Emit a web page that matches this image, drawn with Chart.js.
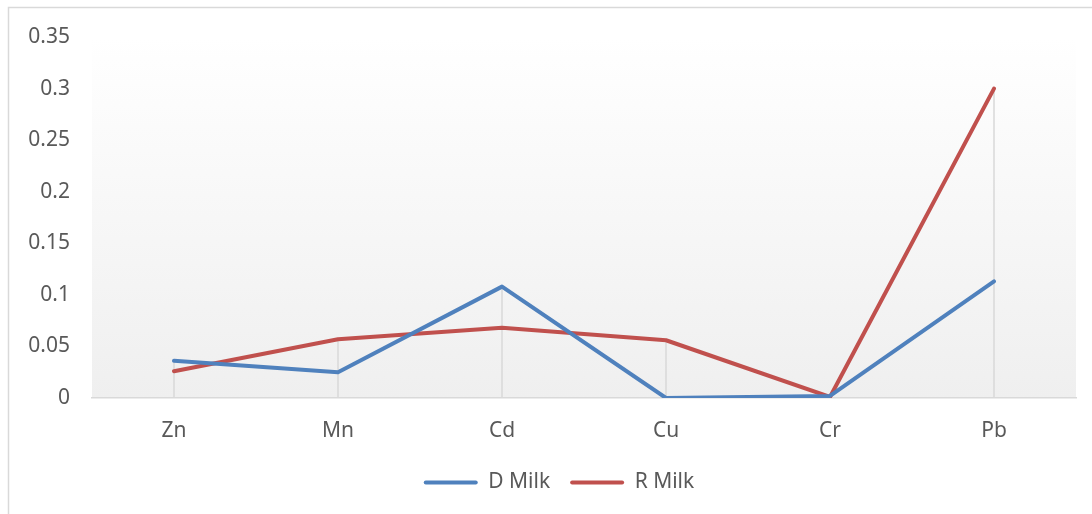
<!DOCTYPE html>
<html>
<head>
<meta charset="utf-8">
<script src="https://cdn.jsdelivr.net/npm/chart.js@4/dist/chart.umd.min.js"></script>
<style>
  html, body { margin: 0; padding: 0; background: #fff; }
</style>
</head>
<body>
<canvas id="chart" width="1092" height="514"></canvas>
<script>
// chart data
const elements = ['Zn', 'Mn', 'Cd', 'Cu', 'Cr', 'Pb'];
const dMilk = [0.036, 0.025, 0.108, 0.0, 0.002, 0.113];
const rMilk = [0.026, 0.057, 0.068, 0.056, 0.001, 0.300];
const yTicks = [0, 0.05, 0.1, 0.15, 0.2, 0.25, 0.3, 0.35];

const BLUE = '#4f81bd';
const RED = '#c0504d';
const TEXT = '#595959';
const FONT = { family: 'Noto Sans', size: 21 };

// gradient plot background + outer frame
const backdrop = {
  id: 'backdrop',
  afterLayout(chart) {
    // the original frame runs past the right edge, so the legend sits a bit right of centre
    chart.legend.left += 17;
    chart.legend.right += 17;
  },
  beforeDraw(chart) {
    const { ctx, chartArea: a } = chart;
    ctx.save();
    ctx.strokeStyle = '#d9d9d9';
    ctx.lineWidth = 1.5;
    ctx.strokeRect(8.5, 7.5, chart.width + 10, chart.height + 10);
    const g = ctx.createLinearGradient(0, a.top, 0, a.bottom);
    g.addColorStop(0, '#ffffff');
    g.addColorStop(1, '#efefef');
    ctx.fillStyle = g;
    ctx.fillRect(a.left, a.top, a.right - a.left, a.bottom - a.top);
    ctx.restore();
  }
};

// excel-style drop lines from highest point to the axis
const dropLines = {
  id: 'dropLines',
  beforeDatasetsDraw(chart) {
    const { ctx, chartArea: a } = chart;
    const metas = chart.data.datasets.map((d, i) => chart.getDatasetMeta(i));
    ctx.save();
    ctx.strokeStyle = '#d9d9d9';
    ctx.lineWidth = 1.5;
    elements.forEach((e, i) => {
      const x = metas[0].data[i].x;
      const top = Math.min(...metas.map(m => m.data[i].y));
      ctx.beginPath();
      ctx.moveTo(x, top);
      ctx.lineTo(x, a.bottom);
      ctx.stroke();
    });
    ctx.restore();
  }
};

new Chart(document.getElementById('chart'), {
  type: 'line',
  data: {
    labels: elements,
    datasets: [
      { label: 'D Milk', data: dMilk, borderColor: BLUE, backgroundColor: BLUE, borderWidth: 4, pointRadius: 0, tension: 0, borderCapStyle: 'round', borderJoinStyle: 'round' },
      { label: 'R Milk', data: rMilk, borderColor: RED, backgroundColor: RED, borderWidth: 4, pointRadius: 0, tension: 0, borderCapStyle: 'round', borderJoinStyle: 'round' }
    ]
  },
  options: {
    responsive: false,
    animation: false,
    layout: { padding: { top: 37, left: 8, right: 16, bottom: 11 } },
    plugins: {
      tooltip: { enabled: false },
      legend: {
        position: 'bottom',
        labels: {
          color: TEXT,
          font: FONT,
          boxWidth: 54,
          boxHeight: 4,
          padding: 20,
          generateLabels(chart) {
            return chart.data.datasets.map((d, i) => ({
              text: d.label,
              fillStyle: d.borderColor,
              strokeStyle: d.borderColor,
              lineWidth: 0,
              borderRadius: 2,
              fontColor: TEXT,
              datasetIndex: i
            }));
          }
        }
      }
    },
    scales: {
      x: {
        offset: true,
        grid: { display: false, drawTicks: false },
        border: { color: '#d9d9d9', width: 1.5 },
        ticks: { color: TEXT, font: FONT, padding: 20 },
        afterFit(s) { s.height = 54; }
      },
      y: {
        min: 0,
        max: 0.35,
        afterBuildTicks(s) { s.ticks = yTicks.map(v => ({ value: v })); },
        grid: { display: false, drawTicks: false },
        border: { display: false },
        ticks: {
          color: TEXT,
          font: FONT,
          padding: 22,
          callback: v => String(v)
        },
        afterFit(s) { s.width = 84; }
      }
    }
  },
  plugins: [backdrop, dropLines]
});
</script>
</body>
</html>
